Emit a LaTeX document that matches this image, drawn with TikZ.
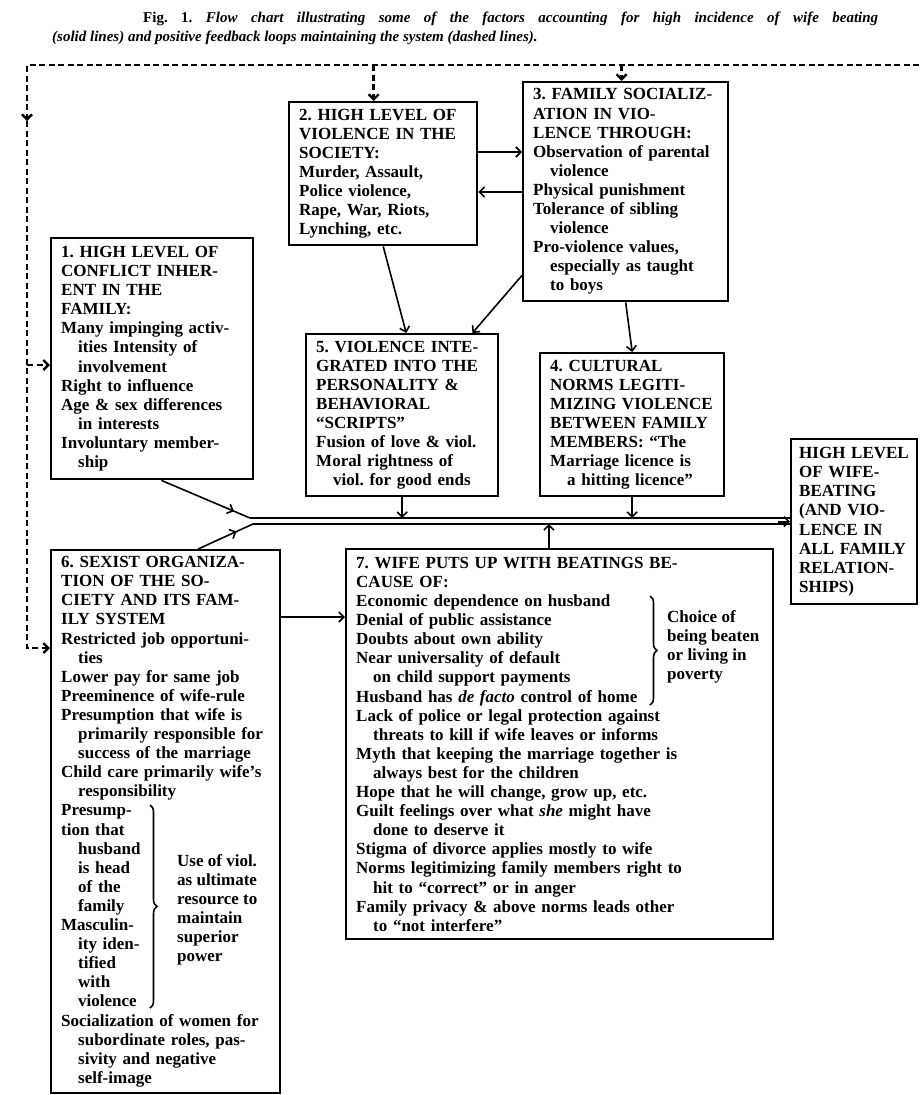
\documentclass[tikz,border=0pt]{standalone}
\usepackage{fontspec}
\setmainfont{Liberation Serif}
\usepackage{tikz}
\usetikzlibrary{arrows.meta,calc,decorations.markings,decorations.pathreplacing}

\newcommand\boxfont{\fontsize{17}{19.1}\selectfont\bfseries}
\newcommand\captfont{\fontsize{15}{19}\selectfont\bfseries\itshape}
\newcommand\subl{\hspace*{1em}}
\frenchspacing

\begin{document}
\begin{tikzpicture}[x=1pt, y=-1pt,
  >={Straight Barb[length=5pt,width=10pt]},
  blk/.style={draw, line width=2.4pt, anchor=north west, inner xsep=10pt,
    inner ysep=4pt, align=left, font=\boxfont},
  link/.style={line width=1.6pt},
  feedback/.style={line width=2.4pt, dash pattern=on 6pt off 3.5pt},
  midtip/.style={postaction={decorate}, decoration={markings,
    mark=at position #1 with {\arrow{>}}}},
  bracetxt/.style={anchor=north west, inner sep=0pt, align=left, font=\boxfont}]
\useasboundingbox (0,0) rectangle (919,1095);
% Caption
\node[anchor=north west, inner sep=0pt, align=left, font=\captfont] (caption) at (52,12)
  {\hspace*{91pt}\makebox[735pt][s]{\textup{Fig. 1.} Flow chart illustrating some of the factors accounting for high incidence of wife beating}\\
   (solid lines) and positive feedback loops maintaining the system (dashed lines).};
% Boxes
\node[blk, text width=168pt, minimum height=143pt] (society) at (288,101)
  {2. HIGH LEVEL OF\\VIOLENCE IN THE\\SOCIETY:\\Murder, Assault,\\Police violence,\\Rape, War, Riots,\\Lynching, etc.};
\node[blk, text width=185pt, minimum height=219pt] (familysoc) at (522,81)
  {3. FAMILY SOCIALIZ-\\ATION IN VIO-\\LENCE THROUGH:\\Observation of parental\\\subl violence\\Physical punishment\\Tolerance of sibling\\\subl violence\\Pro-violence values,\\\subl especially as taught\\\subl to boys};
\node[blk, text width=182pt, minimum height=241pt] (conflict) at (50,237)
  {1. HIGH LEVEL OF\\CONFLICT INHER-\\ENT IN THE\\FAMILY:\\Many impinging activ-\\\subl ities Intensity of\\\subl involvement\\Right to influence\\Age \& sex differences\\\subl in interests\\Involuntary member-\\\subl ship};
\node[blk, text width=172pt, minimum height=162pt] (personality) at (305,333)
  {5. VIOLENCE INTE-\\GRATED INTO THE\\PERSONALITY \&\\BEHAVIORAL\\``SCRIPTS''\\Fusion of love \& viol.\\Moral rightness of\\\subl viol. for good ends};
\node[blk, text width=164pt, minimum height=143pt] (norms) at (539,352)
  {4. CULTURAL\\NORMS LEGITI-\\MIZING VIOLENCE\\BETWEEN FAMILY\\MEMBERS: ``The\\Marriage licence is\\\subl a hitting licence''};
\node[blk, inner xsep=8pt, text width=110pt, minimum height=165pt] (beating) at (790,438)
  {HIGH LEVEL\\OF WIFE-\\BEATING\\(AND VIO-\\LENCE IN\\ALL FAMILY\\RELATION-\\SHIPS)};
\node[blk, text width=209pt, minimum height=543pt] (sexism) at (50,549)
  {6. SEXIST ORGANIZA-\\TION OF THE SO-\\CIETY AND ITS FAM-\\ILY SYSTEM\\Restricted job opportuni-\\\subl ties\\Lower pay for same job\\Preeminence of wife-rule\\Presumption that wife is\\\subl primarily responsible for\\\subl success of the marriage\\Child care primarily wife's\\\subl responsibility\\Presump-\\tion that\\\subl husband\\\subl is head\\\subl of the\\\subl family\\Masculin-\\\subl ity iden-\\\subl tified\\\subl with\\\subl violence\\Socialization of women for\\\subl subordinate roles, pas-\\\subl sivity and negative\\\subl self-image};
\node[blk, text width=407pt, minimum height=390pt] (putsup) at (345,548)
  {7. WIFE PUTS UP WITH BEATINGS BE-\\CAUSE OF:\\Economic dependence on husband\\Denial of public assistance\\Doubts about own ability\\Near universality of default\\\subl on child support payments\\Husband has \textit{de facto} control of home\\Lack of police or legal protection against\\\subl threats to kill if wife leaves or informs\\Myth that keeping the marriage together is\\\subl always best for the children\\Hope that he will change, grow up, etc.\\Guilt feelings over what \textit{she} might have\\\subl done to deserve it\\Stigma of divorce applies mostly to wife\\Norms legitimizing family members right to\\\subl hit to ``correct'' or in anger\\Family privacy \& above norms leads other\\\subl to ``not interfere''};
% Braces
\draw[link, decorate, decoration={brace, amplitude=7pt}] (650,596) -- (650,705);
\node[bracetxt] (choice) at (667,610) {Choice of\\being beaten\\or living in\\poverty};
\draw[link, decorate, decoration={brace, amplitude=7pt}] (150,805) -- (150,1008);
\node[bracetxt] (ultimate) at (177,854) {Use of viol.\\as ultimate\\resource to\\maintain\\superior\\power};
% Feedback loops (dashed)
\coordinate (fbl) at (27,65);
\coordinate (fbr) at (919,65);
\coordinate (fb1) at (27,365);
\coordinate (fb6) at (27,648);
\coordinate (s2in) at ($(society.north west)!0.45!(society.north east)$);
\coordinate (s3in) at ($(familysoc.north west)!0.48!(familysoc.north east)$);
\draw[feedback, ->] (fbr) -- (fbl) -- (27,121);
\draw[feedback, ->] (27,121) -- (fb6) -- (fb6 -| sexism.west);
\draw[feedback, ->] (fb1) -- (fb1 -| conflict.west);
\draw[feedback, ->] (s2in |- fbl) -- (s2in);
\draw[feedback, ->] (s3in |- fbl) -- (s3in);
% Links between boxes
\coordinate (a23) at ([yshift=-51pt]society.north east);
\coordinate (a32) at ([yshift=-111pt]familysoc.north west);
\draw[link, ->] (a23) -- (a23 -| familysoc.west);
\draw[link, ->] (a32) -- (a32 -| society.east);
\draw[link, ->] (society.south) -- ([xshift=4pt]personality.north);
\draw[link, ->] ([yshift=27pt]familysoc.south west) -- ([xshift=-27pt]personality.north east);
\draw[link, ->] (familysoc.south) -- (norms.north);
\coordinate (a67) at ([yshift=-68pt]sexism.north east);
\draw[link, ->] (a67) -- (a67 -| putsup.west);
% Main trunk to outcome
\coordinate (jt) at (250,518);
\coordinate (jb) at (253,524);
\draw[link, midtip=0.82] ($(conflict.south west)!0.545!(conflict.south east)$) -- (jt);
\draw[link, midtip=0.7] ($(sexism.north west)!0.64!(sexism.north east)$) -- (jb);
\draw[link] (jt) -- (beating.west |- jt);
\draw[link] (jb) -- (beating.west |- jb);
\draw[link, ->] ([xshift=-12pt]beating.west) -- (beating.west);
\draw[link, ->] (personality.south) -- (personality.south |- jt);
\draw[link, ->] (norms.south) -- (norms.south |- jt);
\coordinate (p7) at ($(putsup.north west)!0.475!(putsup.north east)$);
\draw[link, ->] (p7) -- (p7 |- jb);
\end{tikzpicture}
\end{document}
